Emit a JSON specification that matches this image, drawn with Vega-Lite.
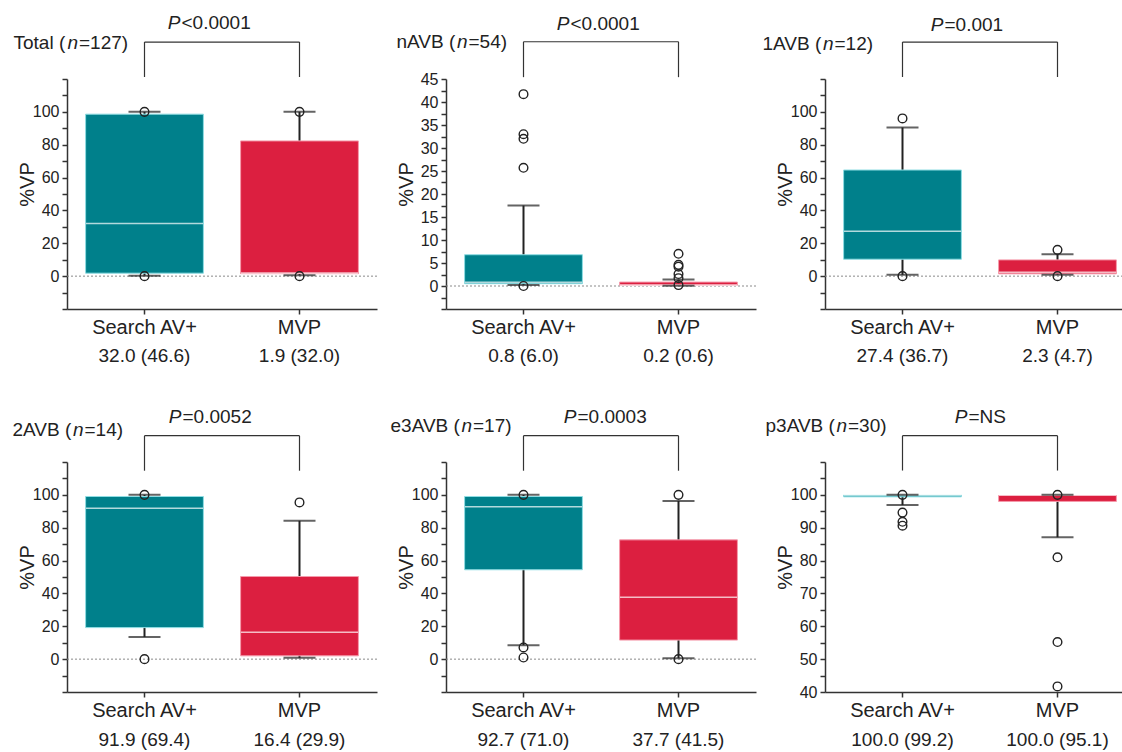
{
  "$schema": "https://vega.github.io/schema/vega-lite/v6.json",
  "padding": {"left": 12, "top": 14, "right": 5, "bottom": 5},
  "background": "white",
  "datasets": {
    "boxes": [
      {"panel": "Total", "group": "Search AV+", "q1": 1.8, "q3": 98.6, "median": 32.0, "lo": 0.3, "hi": 100, "stat": "32.0 (46.6)"},
      {"panel": "Total", "group": "MVP", "q1": 1.5, "q3": 82.3, "median": 1.9, "lo": 0.5, "hi": 100, "stat": "1.9 (32.0)"},
      {"panel": "nAVB", "group": "Search AV+", "q1": 0.5, "q3": 6.8, "median": 0.8, "lo": 0.2, "hi": 17.5, "stat": "0.8 (6.0)"},
      {"panel": "nAVB", "group": "MVP", "q1": 0.15, "q3": 0.85, "median": 0.2, "lo": 0.05, "hi": 1.4, "stat": "0.2 (0.6)"},
      {"panel": "1AVB", "group": "Search AV+", "q1": 10.3, "q3": 64.6, "median": 27.4, "lo": 0.8, "hi": 90.5, "stat": "27.4 (36.7)"},
      {"panel": "1AVB", "group": "MVP", "q1": 1.4, "q3": 9.9, "median": 2.3, "lo": 0.8, "hi": 13.4, "stat": "2.3 (4.7)"},
      {"panel": "2AVB", "group": "Search AV+", "q1": 19.2, "q3": 99.0, "median": 91.9, "lo": 13.5, "hi": 100, "stat": "91.9 (69.4)"},
      {"panel": "2AVB", "group": "MVP", "q1": 2.0, "q3": 50.3, "median": 16.4, "lo": 0.8, "hi": 84.2, "stat": "16.4 (29.9)"},
      {"panel": "e3AVB", "group": "Search AV+", "q1": 54.4, "q3": 99.0, "median": 92.7, "lo": 8.5, "hi": 100, "stat": "92.7 (71.0)"},
      {"panel": "e3AVB", "group": "MVP", "q1": 11.6, "q3": 72.6, "median": 37.7, "lo": 0.6, "hi": 96.3, "stat": "37.7 (41.5)"},
      {"panel": "p3AVB", "group": "Search AV+", "q1": 99.4, "q3": 99.9, "median": 100, "lo": 96.9, "hi": 100, "stat": "100.0 (99.2)"},
      {"panel": "p3AVB", "group": "MVP", "q1": 98.0, "q3": 99.8, "median": 100, "lo": 87.1, "hi": 100, "stat": "100.0 (95.1)"}
    ],
    "outliers": [
      {"panel": "Total", "group": "Search AV+", "value": 100},
      {"panel": "Total", "group": "Search AV+", "value": 0},
      {"panel": "Total", "group": "MVP", "value": 100},
      {"panel": "Total", "group": "MVP", "value": 0},
      {"panel": "nAVB", "group": "Search AV+", "value": 41.7},
      {"panel": "nAVB", "group": "Search AV+", "value": 33.0},
      {"panel": "nAVB", "group": "Search AV+", "value": 32.0},
      {"panel": "nAVB", "group": "Search AV+", "value": 25.7},
      {"panel": "nAVB", "group": "Search AV+", "value": 0},
      {"panel": "nAVB", "group": "MVP", "value": 7.0},
      {"panel": "nAVB", "group": "MVP", "value": 4.6},
      {"panel": "nAVB", "group": "MVP", "value": 4.2},
      {"panel": "nAVB", "group": "MVP", "value": 2.6},
      {"panel": "nAVB", "group": "MVP", "value": 1.7},
      {"panel": "nAVB", "group": "MVP", "value": 0.2},
      {"panel": "1AVB", "group": "Search AV+", "value": 96},
      {"panel": "1AVB", "group": "Search AV+", "value": 0},
      {"panel": "1AVB", "group": "MVP", "value": 16},
      {"panel": "1AVB", "group": "MVP", "value": 0},
      {"panel": "2AVB", "group": "Search AV+", "value": 100},
      {"panel": "2AVB", "group": "Search AV+", "value": 0},
      {"panel": "2AVB", "group": "MVP", "value": 95.4},
      {"panel": "e3AVB", "group": "Search AV+", "value": 100},
      {"panel": "e3AVB", "group": "Search AV+", "value": 7.1},
      {"panel": "e3AVB", "group": "Search AV+", "value": 1.0},
      {"panel": "e3AVB", "group": "MVP", "value": 100},
      {"panel": "e3AVB", "group": "MVP", "value": 0},
      {"panel": "p3AVB", "group": "Search AV+", "value": 100},
      {"panel": "p3AVB", "group": "Search AV+", "value": 94.6},
      {"panel": "p3AVB", "group": "Search AV+", "value": 91.8},
      {"panel": "p3AVB", "group": "Search AV+", "value": 90.6},
      {"panel": "p3AVB", "group": "MVP", "value": 100},
      {"panel": "p3AVB", "group": "MVP", "value": 81},
      {"panel": "p3AVB", "group": "MVP", "value": 55.2},
      {"panel": "p3AVB", "group": "MVP", "value": 41.7}
    ],
    "panels": [
      {"panel": "Total", "name": "Total (", "n": "n", "count": "=127)", "P": "P", "test": "<0.0001"},
      {"panel": "nAVB", "name": "nAVB (", "n": "n", "count": "=54)", "P": "P", "test": "<0.0001"},
      {"panel": "1AVB", "name": "1AVB (", "n": "n", "count": "=12)", "P": "P", "test": "=0.001"},
      {"panel": "2AVB", "name": "2AVB (", "n": "n", "count": "=14)", "P": "P", "test": "=0.0052"},
      {"panel": "e3AVB", "name": "e3AVB (", "n": "n", "count": "=17)", "P": "P", "test": "=0.0003"},
      {"panel": "p3AVB", "name": "p3AVB (", "n": "n", "count": "=30)", "P": "P", "test": "=NS"}
    ]
  },
  "columns": 3,
  "bounds": "flush",
  "spacing": {"row": 153, "column": 69},
  "concat": [
    {
      "width": 310, "height": 230,
      "data": {"name": "boxes"},
      "transform": [{"filter": "datum.panel == 'Total'"}],
      "layer": [
        {"data": {"name": "panels"}, "transform": [{"filter": "datum.panel == 'Total'"}], "mark": {"type": "rule", "color": "#8a8a8a", "strokeDash": [2, 2], "strokeWidth": 1}, "encoding": {"y": {"datum": 0}}},
        {"mark": {"type": "rule", "color": "#222", "strokeWidth": 2}, "encoding": {"x": {"field": "group", "type": "nominal"}, "y": {"field": "lo", "type": "quantitative"}, "y2": {"field": "hi"}}},
        {"mark": {"type": "bar", "width": {"band": 0.76}, "strokeWidth": 1},
         "encoding": {
           "x": {"field": "group", "type": "nominal", "scale": {"domain": ["Search AV+", "MVP"], "paddingInner": 0, "paddingOuter": 0}, "axis": {"title": null}},
           "y": {"field": "q1", "type": "quantitative", "scale": {"domain": [-20, 120], "nice": false, "zero": false}, "axis": {"title": "%VP", "tickCount": 100, "labelOverlap": false, "values": [-20, -10, 0, 10, 20, 30, 40, 50, 60, 70, 80, 90, 100, 110, 120], "labelExpr": "datum.value >= 0 && datum.value <= 100 && datum.value % 20 == 0 ? '' + datum.value : ''"}},
           "y2": {"field": "q3"},
           "color": {"field": "group", "type": "nominal", "scale": {"domain": ["Search AV+", "MVP"], "range": ["#00808b", "#dc1f40"]}, "legend": null},
           "stroke": {"field": "group", "type": "nominal", "scale": {"domain": ["Search AV+", "MVP"], "range": ["#8fdde3", "#f59aab"]}, "legend": null}
         }},
        {"mark": {"type": "tick", "color": "white", "size": 117, "thickness": 1.5}, "encoding": {"x": {"field": "group", "type": "nominal"}, "y": {"field": "median", "type": "quantitative"}}},
        {"mark": {"type": "tick", "color": "#222", "size": 32, "thickness": 2}, "encoding": {"x": {"field": "group", "type": "nominal"}, "y": {"field": "lo", "type": "quantitative"}}},
        {"mark": {"type": "tick", "color": "#222", "size": 32, "thickness": 2}, "encoding": {"x": {"field": "group", "type": "nominal"}, "y": {"field": "hi", "type": "quantitative"}}},
        {"data": {"name": "outliers"}, "transform": [{"filter": "datum.panel == 'Total'"}], "mark": {"type": "point", "shape": "circle", "filled": false, "color": "#222", "strokeWidth": 1.4, "size": 75, "opacity": 1}, "encoding": {"x": {"field": "group", "type": "nominal"}, "y": {"field": "value", "type": "quantitative"}}},
        {"mark": {"type": "text", "baseline": "middle", "dy": 47}, "encoding": {"x": {"field": "group", "type": "nominal"}, "y": {"datum": -20}, "text": {"field": "stat"}}},
        {"mark": {"type": "rule", "color": "#333", "strokeWidth": 1.2}, "encoding": {"x": {"field": "group", "type": "nominal"}, "y": {"datum": 121.2}, "y2": {"datum": 142.5}}},
        {"mark": {"type": "line", "color": "#333", "strokeWidth": 1.2}, "encoding": {"x": {"field": "group", "type": "nominal"}, "y": {"datum": 142.5}}},
        {"data": {"name": "panels"}, "transform": [{"filter": "datum.panel == 'Total'"}], "mark": {"type": "text", "align": "right", "baseline": "middle", "fontStyle": "italic", "dx": 36, "dy": -56}, "encoding": {"x": {"datum": "Search AV+"}, "y": {"datum": 120}, "text": {"field": "P"}}},
        {"data": {"name": "panels"}, "transform": [{"filter": "datum.panel == 'Total'"}], "mark": {"type": "text", "align": "left", "baseline": "middle", "dx": 37, "dy": -56}, "encoding": {"x": {"datum": "Search AV+"}, "y": {"datum": 120}, "text": {"field": "test"}}},
        {"data": {"name": "panels"}, "transform": [{"filter": "datum.panel == 'Total'"}], "mark": {"type": "text", "align": "left", "baseline": "middle", "dx": -131, "dy": -36.5}, "encoding": {"x": {"datum": "Search AV+"}, "y": {"datum": 120}, "text": {"field": "name"}}},
        {"data": {"name": "panels"}, "transform": [{"filter": "datum.panel == 'Total'"}], "mark": {"type": "text", "align": "left", "baseline": "middle", "fontStyle": "italic", "dx": -77, "dy": -36.5}, "encoding": {"x": {"datum": "Search AV+"}, "y": {"datum": 120}, "text": {"field": "n"}}},
        {"data": {"name": "panels"}, "transform": [{"filter": "datum.panel == 'Total'"}], "mark": {"type": "text", "align": "left", "baseline": "middle", "dx": -65.5, "dy": -36.5}, "encoding": {"x": {"datum": "Search AV+"}, "y": {"datum": 120}, "text": {"field": "count"}}}
      ]
    },
    {
      "width": 310, "height": 230,
      "data": {"name": "boxes"},
      "transform": [{"filter": "datum.panel == 'nAVB'"}],
      "layer": [
        {"data": {"name": "panels"}, "transform": [{"filter": "datum.panel == 'nAVB'"}], "mark": {"type": "rule", "color": "#8a8a8a", "strokeDash": [2, 2], "strokeWidth": 1}, "encoding": {"y": {"datum": 0}}},
        {"mark": {"type": "rule", "color": "#222", "strokeWidth": 2}, "encoding": {"x": {"field": "group", "type": "nominal"}, "y": {"field": "lo", "type": "quantitative"}, "y2": {"field": "hi"}}},
        {"mark": {"type": "bar", "width": {"band": 0.76}, "strokeWidth": 1},
         "encoding": {
           "x": {"field": "group", "type": "nominal", "scale": {"domain": ["Search AV+", "MVP"], "paddingInner": 0, "paddingOuter": 0}, "axis": {"title": null}},
           "y": {"field": "q1", "type": "quantitative", "scale": {"domain": [-5, 45], "nice": false, "zero": false}, "axis": {"title": "%VP", "tickCount": 100, "labelOverlap": false, "values": [-5, -2.5, 0, 2.5, 5, 7.5, 10, 12.5, 15, 17.5, 20, 22.5, 25, 27.5, 30, 32.5, 35, 37.5, 40, 42.5, 45], "labelExpr": "datum.value >= 0 && datum.value % 5 == 0 ? '' + datum.value : ''"}},
           "y2": {"field": "q3"},
           "color": {"field": "group", "type": "nominal", "scale": {"domain": ["Search AV+", "MVP"], "range": ["#00808b", "#dc1f40"]}, "legend": null},
           "stroke": {"field": "group", "type": "nominal", "scale": {"domain": ["Search AV+", "MVP"], "range": ["#8fdde3", "#f59aab"]}, "legend": null}
         }},
        {"mark": {"type": "tick", "color": "white", "size": 117, "thickness": 1.5}, "encoding": {"x": {"field": "group", "type": "nominal"}, "y": {"field": "median", "type": "quantitative"}}},
        {"mark": {"type": "tick", "color": "#222", "size": 32, "thickness": 2}, "encoding": {"x": {"field": "group", "type": "nominal"}, "y": {"field": "lo", "type": "quantitative"}}},
        {"mark": {"type": "tick", "color": "#222", "size": 32, "thickness": 2}, "encoding": {"x": {"field": "group", "type": "nominal"}, "y": {"field": "hi", "type": "quantitative"}}},
        {"data": {"name": "outliers"}, "transform": [{"filter": "datum.panel == 'nAVB'"}], "mark": {"type": "point", "shape": "circle", "filled": false, "color": "#222", "strokeWidth": 1.4, "size": 75, "opacity": 1}, "encoding": {"x": {"field": "group", "type": "nominal"}, "y": {"field": "value", "type": "quantitative"}}},
        {"mark": {"type": "text", "baseline": "middle", "dy": 47}, "encoding": {"x": {"field": "group", "type": "nominal"}, "y": {"datum": -5}, "text": {"field": "stat"}}},
        {"mark": {"type": "rule", "color": "#333", "strokeWidth": 1.2}, "encoding": {"x": {"field": "group", "type": "nominal"}, "y": {"datum": 45.4}, "y2": {"datum": 53.1}}},
        {"mark": {"type": "line", "color": "#333", "strokeWidth": 1.2}, "encoding": {"x": {"field": "group", "type": "nominal"}, "y": {"datum": 53.1}}},
        {"data": {"name": "panels"}, "transform": [{"filter": "datum.panel == 'nAVB'"}], "mark": {"type": "text", "align": "right", "baseline": "middle", "fontStyle": "italic", "dx": 46, "dy": -55}, "encoding": {"x": {"datum": "Search AV+"}, "y": {"datum": 45}, "text": {"field": "P"}}},
        {"data": {"name": "panels"}, "transform": [{"filter": "datum.panel == 'nAVB'"}], "mark": {"type": "text", "align": "left", "baseline": "middle", "dx": 47, "dy": -55}, "encoding": {"x": {"datum": "Search AV+"}, "y": {"datum": 45}, "text": {"field": "test"}}},
        {"data": {"name": "panels"}, "transform": [{"filter": "datum.panel == 'nAVB'"}], "mark": {"type": "text", "align": "left", "baseline": "middle", "dx": -127, "dy": -37}, "encoding": {"x": {"datum": "Search AV+"}, "y": {"datum": 45}, "text": {"field": "name"}}},
        {"data": {"name": "panels"}, "transform": [{"filter": "datum.panel == 'nAVB'"}], "mark": {"type": "text", "align": "left", "baseline": "middle", "fontStyle": "italic", "dx": -66.5, "dy": -37}, "encoding": {"x": {"datum": "Search AV+"}, "y": {"datum": 45}, "text": {"field": "n"}}},
        {"data": {"name": "panels"}, "transform": [{"filter": "datum.panel == 'nAVB'"}], "mark": {"type": "text", "align": "left", "baseline": "middle", "dx": -55, "dy": -37}, "encoding": {"x": {"datum": "Search AV+"}, "y": {"datum": 45}, "text": {"field": "count"}}}
      ]
    },
    {
      "width": 310, "height": 230,
      "data": {"name": "boxes"},
      "transform": [{"filter": "datum.panel == '1AVB'"}],
      "layer": [
        {"data": {"name": "panels"}, "transform": [{"filter": "datum.panel == '1AVB'"}], "mark": {"type": "rule", "color": "#8a8a8a", "strokeDash": [2, 2], "strokeWidth": 1}, "encoding": {"y": {"datum": 0}}},
        {"mark": {"type": "rule", "color": "#222", "strokeWidth": 2}, "encoding": {"x": {"field": "group", "type": "nominal"}, "y": {"field": "lo", "type": "quantitative"}, "y2": {"field": "hi"}}},
        {"mark": {"type": "bar", "width": {"band": 0.76}, "strokeWidth": 1},
         "encoding": {
           "x": {"field": "group", "type": "nominal", "scale": {"domain": ["Search AV+", "MVP"], "paddingInner": 0, "paddingOuter": 0}, "axis": {"title": null}},
           "y": {"field": "q1", "type": "quantitative", "scale": {"domain": [-20, 120], "nice": false, "zero": false}, "axis": {"title": "%VP", "tickCount": 100, "labelOverlap": false, "values": [-20, -10, 0, 10, 20, 30, 40, 50, 60, 70, 80, 90, 100, 110, 120], "labelExpr": "datum.value >= 0 && datum.value <= 100 && datum.value % 20 == 0 ? '' + datum.value : ''"}},
           "y2": {"field": "q3"},
           "color": {"field": "group", "type": "nominal", "scale": {"domain": ["Search AV+", "MVP"], "range": ["#00808b", "#dc1f40"]}, "legend": null},
           "stroke": {"field": "group", "type": "nominal", "scale": {"domain": ["Search AV+", "MVP"], "range": ["#8fdde3", "#f59aab"]}, "legend": null}
         }},
        {"mark": {"type": "tick", "color": "white", "size": 117, "thickness": 1.5}, "encoding": {"x": {"field": "group", "type": "nominal"}, "y": {"field": "median", "type": "quantitative"}}},
        {"mark": {"type": "tick", "color": "#222", "size": 32, "thickness": 2}, "encoding": {"x": {"field": "group", "type": "nominal"}, "y": {"field": "lo", "type": "quantitative"}}},
        {"mark": {"type": "tick", "color": "#222", "size": 32, "thickness": 2}, "encoding": {"x": {"field": "group", "type": "nominal"}, "y": {"field": "hi", "type": "quantitative"}}},
        {"data": {"name": "outliers"}, "transform": [{"filter": "datum.panel == '1AVB'"}], "mark": {"type": "point", "shape": "circle", "filled": false, "color": "#222", "strokeWidth": 1.4, "size": 75, "opacity": 1}, "encoding": {"x": {"field": "group", "type": "nominal"}, "y": {"field": "value", "type": "quantitative"}}},
        {"mark": {"type": "text", "baseline": "middle", "dy": 47}, "encoding": {"x": {"field": "group", "type": "nominal"}, "y": {"datum": -20}, "text": {"field": "stat"}}},
        {"mark": {"type": "rule", "color": "#333", "strokeWidth": 1.2}, "encoding": {"x": {"field": "group", "type": "nominal"}, "y": {"datum": 121.2}, "y2": {"datum": 142.5}}},
        {"mark": {"type": "line", "color": "#333", "strokeWidth": 1.2}, "encoding": {"x": {"field": "group", "type": "nominal"}, "y": {"datum": 142.5}}},
        {"data": {"name": "panels"}, "transform": [{"filter": "datum.panel == '1AVB'"}], "mark": {"type": "text", "align": "right", "baseline": "middle", "fontStyle": "italic", "dx": 41, "dy": -54}, "encoding": {"x": {"datum": "Search AV+"}, "y": {"datum": 120}, "text": {"field": "P"}}},
        {"data": {"name": "panels"}, "transform": [{"filter": "datum.panel == '1AVB'"}], "mark": {"type": "text", "align": "left", "baseline": "middle", "dx": 42, "dy": -54}, "encoding": {"x": {"datum": "Search AV+"}, "y": {"datum": 120}, "text": {"field": "test"}}},
        {"data": {"name": "panels"}, "transform": [{"filter": "datum.panel == '1AVB'"}], "mark": {"type": "text", "align": "left", "baseline": "middle", "dx": -140, "dy": -35}, "encoding": {"x": {"datum": "Search AV+"}, "y": {"datum": 120}, "text": {"field": "name"}}},
        {"data": {"name": "panels"}, "transform": [{"filter": "datum.panel == '1AVB'"}], "mark": {"type": "text", "align": "left", "baseline": "middle", "fontStyle": "italic", "dx": -79.5, "dy": -35}, "encoding": {"x": {"datum": "Search AV+"}, "y": {"datum": 120}, "text": {"field": "n"}}},
        {"data": {"name": "panels"}, "transform": [{"filter": "datum.panel == '1AVB'"}], "mark": {"type": "text", "align": "left", "baseline": "middle", "dx": -68, "dy": -35}, "encoding": {"x": {"datum": "Search AV+"}, "y": {"datum": 120}, "text": {"field": "count"}}}
      ]
    },
    {
      "width": 310, "height": 230,
      "data": {"name": "boxes"},
      "transform": [{"filter": "datum.panel == '2AVB'"}],
      "layer": [
        {"data": {"name": "panels"}, "transform": [{"filter": "datum.panel == '2AVB'"}], "mark": {"type": "rule", "color": "#8a8a8a", "strokeDash": [2, 2], "strokeWidth": 1}, "encoding": {"y": {"datum": 0}}},
        {"mark": {"type": "rule", "color": "#222", "strokeWidth": 2}, "encoding": {"x": {"field": "group", "type": "nominal"}, "y": {"field": "lo", "type": "quantitative"}, "y2": {"field": "hi"}}},
        {"mark": {"type": "bar", "width": {"band": 0.76}, "strokeWidth": 1},
         "encoding": {
           "x": {"field": "group", "type": "nominal", "scale": {"domain": ["Search AV+", "MVP"], "paddingInner": 0, "paddingOuter": 0}, "axis": {"title": null}},
           "y": {"field": "q1", "type": "quantitative", "scale": {"domain": [-20, 120], "nice": false, "zero": false}, "axis": {"title": "%VP", "tickCount": 100, "labelOverlap": false, "values": [-20, -10, 0, 10, 20, 30, 40, 50, 60, 70, 80, 90, 100, 110, 120], "labelExpr": "datum.value >= 0 && datum.value <= 100 && datum.value % 20 == 0 ? '' + datum.value : ''"}},
           "y2": {"field": "q3"},
           "color": {"field": "group", "type": "nominal", "scale": {"domain": ["Search AV+", "MVP"], "range": ["#00808b", "#dc1f40"]}, "legend": null},
           "stroke": {"field": "group", "type": "nominal", "scale": {"domain": ["Search AV+", "MVP"], "range": ["#8fdde3", "#f59aab"]}, "legend": null}
         }},
        {"mark": {"type": "tick", "color": "white", "size": 117, "thickness": 1.5}, "encoding": {"x": {"field": "group", "type": "nominal"}, "y": {"field": "median", "type": "quantitative"}}},
        {"mark": {"type": "tick", "color": "#222", "size": 32, "thickness": 2}, "encoding": {"x": {"field": "group", "type": "nominal"}, "y": {"field": "lo", "type": "quantitative"}}},
        {"mark": {"type": "tick", "color": "#222", "size": 32, "thickness": 2}, "encoding": {"x": {"field": "group", "type": "nominal"}, "y": {"field": "hi", "type": "quantitative"}}},
        {"data": {"name": "outliers"}, "transform": [{"filter": "datum.panel == '2AVB'"}], "mark": {"type": "point", "shape": "circle", "filled": false, "color": "#222", "strokeWidth": 1.4, "size": 75, "opacity": 1}, "encoding": {"x": {"field": "group", "type": "nominal"}, "y": {"field": "value", "type": "quantitative"}}},
        {"mark": {"type": "text", "baseline": "middle", "dy": 48}, "encoding": {"x": {"field": "group", "type": "nominal"}, "y": {"datum": -20}, "text": {"field": "stat"}}},
        {"mark": {"type": "rule", "color": "#333", "strokeWidth": 1.2}, "encoding": {"x": {"field": "group", "type": "nominal"}, "y": {"datum": 114.7}, "y2": {"datum": 136}}},
        {"mark": {"type": "line", "color": "#333", "strokeWidth": 1.2}, "encoding": {"x": {"field": "group", "type": "nominal"}, "y": {"datum": 136}}},
        {"data": {"name": "panels"}, "transform": [{"filter": "datum.panel == '2AVB'"}], "mark": {"type": "text", "align": "right", "baseline": "middle", "fontStyle": "italic", "dx": 37, "dy": -45}, "encoding": {"x": {"datum": "Search AV+"}, "y": {"datum": 120}, "text": {"field": "P"}}},
        {"data": {"name": "panels"}, "transform": [{"filter": "datum.panel == '2AVB'"}], "mark": {"type": "text", "align": "left", "baseline": "middle", "dx": 38, "dy": -45}, "encoding": {"x": {"datum": "Search AV+"}, "y": {"datum": 120}, "text": {"field": "test"}}},
        {"data": {"name": "panels"}, "transform": [{"filter": "datum.panel == '2AVB'"}], "mark": {"type": "text", "align": "left", "baseline": "middle", "dx": -132, "dy": -32}, "encoding": {"x": {"datum": "Search AV+"}, "y": {"datum": 120}, "text": {"field": "name"}}},
        {"data": {"name": "panels"}, "transform": [{"filter": "datum.panel == '2AVB'"}], "mark": {"type": "text", "align": "left", "baseline": "middle", "fontStyle": "italic", "dx": -71.5, "dy": -32}, "encoding": {"x": {"datum": "Search AV+"}, "y": {"datum": 120}, "text": {"field": "n"}}},
        {"data": {"name": "panels"}, "transform": [{"filter": "datum.panel == '2AVB'"}], "mark": {"type": "text", "align": "left", "baseline": "middle", "dx": -60, "dy": -32}, "encoding": {"x": {"datum": "Search AV+"}, "y": {"datum": 120}, "text": {"field": "count"}}}
      ]
    },
    {
      "width": 310, "height": 230,
      "data": {"name": "boxes"},
      "transform": [{"filter": "datum.panel == 'e3AVB'"}],
      "layer": [
        {"data": {"name": "panels"}, "transform": [{"filter": "datum.panel == 'e3AVB'"}], "mark": {"type": "rule", "color": "#8a8a8a", "strokeDash": [2, 2], "strokeWidth": 1}, "encoding": {"y": {"datum": 0}}},
        {"mark": {"type": "rule", "color": "#222", "strokeWidth": 2}, "encoding": {"x": {"field": "group", "type": "nominal"}, "y": {"field": "lo", "type": "quantitative"}, "y2": {"field": "hi"}}},
        {"mark": {"type": "bar", "width": {"band": 0.76}, "strokeWidth": 1},
         "encoding": {
           "x": {"field": "group", "type": "nominal", "scale": {"domain": ["Search AV+", "MVP"], "paddingInner": 0, "paddingOuter": 0}, "axis": {"title": null}},
           "y": {"field": "q1", "type": "quantitative", "scale": {"domain": [-20, 120], "nice": false, "zero": false}, "axis": {"title": "%VP", "tickCount": 100, "labelOverlap": false, "values": [-20, -10, 0, 10, 20, 30, 40, 50, 60, 70, 80, 90, 100, 110, 120], "labelExpr": "datum.value >= 0 && datum.value <= 100 && datum.value % 20 == 0 ? '' + datum.value : ''"}},
           "y2": {"field": "q3"},
           "color": {"field": "group", "type": "nominal", "scale": {"domain": ["Search AV+", "MVP"], "range": ["#00808b", "#dc1f40"]}, "legend": null},
           "stroke": {"field": "group", "type": "nominal", "scale": {"domain": ["Search AV+", "MVP"], "range": ["#8fdde3", "#f59aab"]}, "legend": null}
         }},
        {"mark": {"type": "tick", "color": "white", "size": 117, "thickness": 1.5}, "encoding": {"x": {"field": "group", "type": "nominal"}, "y": {"field": "median", "type": "quantitative"}}},
        {"mark": {"type": "tick", "color": "#222", "size": 32, "thickness": 2}, "encoding": {"x": {"field": "group", "type": "nominal"}, "y": {"field": "lo", "type": "quantitative"}}},
        {"mark": {"type": "tick", "color": "#222", "size": 32, "thickness": 2}, "encoding": {"x": {"field": "group", "type": "nominal"}, "y": {"field": "hi", "type": "quantitative"}}},
        {"data": {"name": "outliers"}, "transform": [{"filter": "datum.panel == 'e3AVB'"}], "mark": {"type": "point", "shape": "circle", "filled": false, "color": "#222", "strokeWidth": 1.4, "size": 75, "opacity": 1}, "encoding": {"x": {"field": "group", "type": "nominal"}, "y": {"field": "value", "type": "quantitative"}}},
        {"mark": {"type": "text", "baseline": "middle", "dy": 48}, "encoding": {"x": {"field": "group", "type": "nominal"}, "y": {"datum": -20}, "text": {"field": "stat"}}},
        {"mark": {"type": "rule", "color": "#333", "strokeWidth": 1.2}, "encoding": {"x": {"field": "group", "type": "nominal"}, "y": {"datum": 114.7}, "y2": {"datum": 136}}},
        {"mark": {"type": "line", "color": "#333", "strokeWidth": 1.2}, "encoding": {"x": {"field": "group", "type": "nominal"}, "y": {"datum": 136}}},
        {"data": {"name": "panels"}, "transform": [{"filter": "datum.panel == 'e3AVB'"}], "mark": {"type": "text", "align": "right", "baseline": "middle", "fontStyle": "italic", "dx": 53, "dy": -45}, "encoding": {"x": {"datum": "Search AV+"}, "y": {"datum": 120}, "text": {"field": "P"}}},
        {"data": {"name": "panels"}, "transform": [{"filter": "datum.panel == 'e3AVB'"}], "mark": {"type": "text", "align": "left", "baseline": "middle", "dx": 54, "dy": -45}, "encoding": {"x": {"datum": "Search AV+"}, "y": {"datum": 120}, "text": {"field": "test"}}},
        {"data": {"name": "panels"}, "transform": [{"filter": "datum.panel == 'e3AVB'"}], "mark": {"type": "text", "align": "left", "baseline": "middle", "dx": -133, "dy": -36}, "encoding": {"x": {"datum": "Search AV+"}, "y": {"datum": 120}, "text": {"field": "name"}}},
        {"data": {"name": "panels"}, "transform": [{"filter": "datum.panel == 'e3AVB'"}], "mark": {"type": "text", "align": "left", "baseline": "middle", "fontStyle": "italic", "dx": -62, "dy": -36}, "encoding": {"x": {"datum": "Search AV+"}, "y": {"datum": 120}, "text": {"field": "n"}}},
        {"data": {"name": "panels"}, "transform": [{"filter": "datum.panel == 'e3AVB'"}], "mark": {"type": "text", "align": "left", "baseline": "middle", "dx": -50.5, "dy": -36}, "encoding": {"x": {"datum": "Search AV+"}, "y": {"datum": 120}, "text": {"field": "count"}}}
      ]
    },
    {
      "width": 310, "height": 230,
      "data": {"name": "boxes"},
      "transform": [{"filter": "datum.panel == 'p3AVB'"}],
      "layer": [
        {"mark": {"type": "rule", "color": "#222", "strokeWidth": 2}, "encoding": {"x": {"field": "group", "type": "nominal"}, "y": {"field": "lo", "type": "quantitative"}, "y2": {"field": "hi"}}},
        {"mark": {"type": "bar", "width": {"band": 0.76}, "strokeWidth": 1},
         "encoding": {
           "x": {"field": "group", "type": "nominal", "scale": {"domain": ["Search AV+", "MVP"], "paddingInner": 0, "paddingOuter": 0}, "axis": {"title": null}},
           "y": {"field": "q1", "type": "quantitative", "scale": {"domain": [40, 110], "nice": false, "zero": false}, "axis": {"title": "%VP", "tickCount": 100, "labelOverlap": false, "values": [40, 45, 50, 55, 60, 65, 70, 75, 80, 85, 90, 95, 100, 105, 110], "labelExpr": "datum.value <= 100 && datum.value % 10 == 0 ? '' + datum.value : ''"}},
           "y2": {"field": "q3"},
           "color": {"field": "group", "type": "nominal", "scale": {"domain": ["Search AV+", "MVP"], "range": ["#00808b", "#dc1f40"]}, "legend": null},
           "stroke": {"field": "group", "type": "nominal", "scale": {"domain": ["Search AV+", "MVP"], "range": ["#8fdde3", "#f59aab"]}, "legend": null}
         }},
        {"mark": {"type": "tick", "color": "white", "size": 117, "thickness": 1.5}, "encoding": {"x": {"field": "group", "type": "nominal"}, "y": {"field": "median", "type": "quantitative"}}},
        {"mark": {"type": "tick", "color": "#222", "size": 32, "thickness": 2}, "encoding": {"x": {"field": "group", "type": "nominal"}, "y": {"field": "lo", "type": "quantitative"}}},
        {"mark": {"type": "tick", "color": "#222", "size": 32, "thickness": 2}, "encoding": {"x": {"field": "group", "type": "nominal"}, "y": {"field": "hi", "type": "quantitative"}}},
        {"data": {"name": "outliers"}, "transform": [{"filter": "datum.panel == 'p3AVB'"}], "mark": {"type": "point", "shape": "circle", "filled": false, "color": "#222", "strokeWidth": 1.4, "size": 75, "opacity": 1}, "encoding": {"x": {"field": "group", "type": "nominal"}, "y": {"field": "value", "type": "quantitative"}}},
        {"mark": {"type": "text", "baseline": "middle", "dy": 48}, "encoding": {"x": {"field": "group", "type": "nominal"}, "y": {"datum": 40}, "text": {"field": "stat"}}},
        {"mark": {"type": "rule", "color": "#333", "strokeWidth": 1.2}, "encoding": {"x": {"field": "group", "type": "nominal"}, "y": {"datum": 107.4}, "y2": {"datum": 118}}},
        {"mark": {"type": "line", "color": "#333", "strokeWidth": 1.2}, "encoding": {"x": {"field": "group", "type": "nominal"}, "y": {"datum": 118}}},
        {"data": {"name": "panels"}, "transform": [{"filter": "datum.panel == 'p3AVB'"}], "mark": {"type": "text", "align": "right", "baseline": "middle", "fontStyle": "italic", "dx": 65, "dy": -45}, "encoding": {"x": {"datum": "Search AV+"}, "y": {"datum": 110}, "text": {"field": "P"}}},
        {"data": {"name": "panels"}, "transform": [{"filter": "datum.panel == 'p3AVB'"}], "mark": {"type": "text", "align": "left", "baseline": "middle", "dx": 66, "dy": -45}, "encoding": {"x": {"datum": "Search AV+"}, "y": {"datum": 110}, "text": {"field": "test"}}},
        {"data": {"name": "panels"}, "transform": [{"filter": "datum.panel == 'p3AVB'"}], "mark": {"type": "text", "align": "left", "baseline": "middle", "dx": -137, "dy": -36}, "encoding": {"x": {"datum": "Search AV+"}, "y": {"datum": 110}, "text": {"field": "name"}}},
        {"data": {"name": "panels"}, "transform": [{"filter": "datum.panel == 'p3AVB'"}], "mark": {"type": "text", "align": "left", "baseline": "middle", "fontStyle": "italic", "dx": -66, "dy": -36}, "encoding": {"x": {"datum": "Search AV+"}, "y": {"datum": 110}, "text": {"field": "n"}}},
        {"data": {"name": "panels"}, "transform": [{"filter": "datum.panel == 'p3AVB'"}], "mark": {"type": "text", "align": "left", "baseline": "middle", "dx": -54.5, "dy": -36}, "encoding": {"x": {"datum": "Search AV+"}, "y": {"datum": 110}, "text": {"field": "count"}}}
      ]
    }
  ],
  "config": {
    "font": "Liberation Sans",
    "view": {"stroke": null},
    "axis": {"domainColor": "#333", "domainWidth": 1.5, "tickColor": "#333", "tickWidth": 1.5, "tickSize": 5, "labelColor": "#222", "titleColor": "#222", "grid": false, "titleFontWeight": "normal", "labelFont": "Liberation Sans", "titleFont": "Liberation Sans", "labelOverlap": false},
    "axisX": {"labelFontSize": 20, "labelPadding": 3, "labelAngle": 0},
    "axisY": {"labelFontSize": 16, "labelPadding": 3, "titleFontSize": 20, "titleX": -30, "titleY": 105, "titleAngle": 270, "titleBaseline": "bottom", "titleAlign": "center"},
    "text": {"font": "Liberation Sans", "fontSize": 19, "color": "#222"}
  }
}
